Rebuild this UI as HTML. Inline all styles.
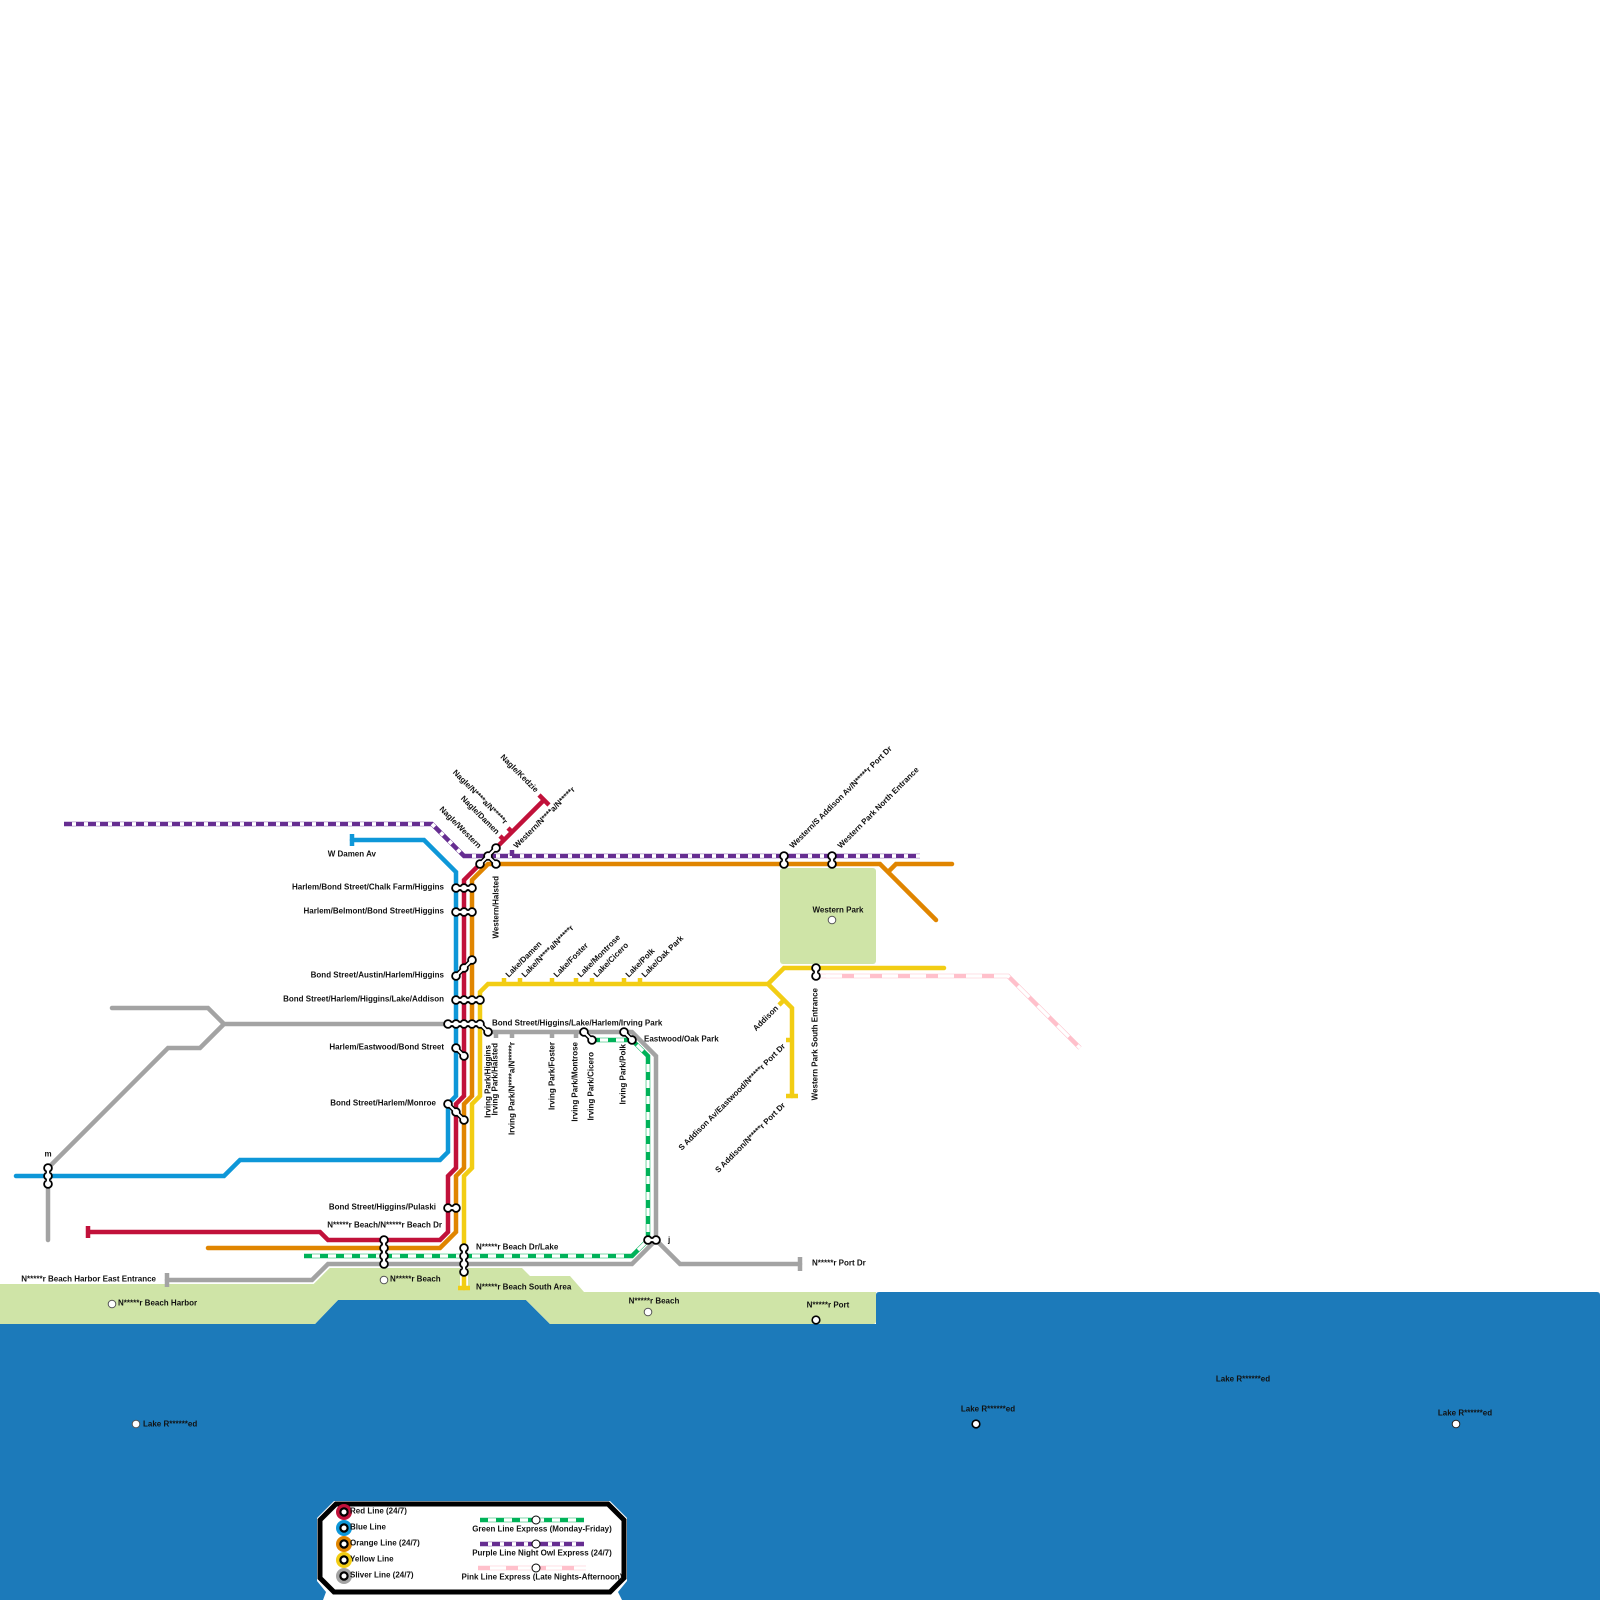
<!DOCTYPE html>
<html><head><meta charset="utf-8"><title>Transit map</title>
<style>
html,body{margin:0;padding:0;background:#fff}
svg{display:block}
text{font-family:"Liberation Sans",sans-serif;font-weight:700;font-size:8px;fill:#111;dominant-baseline:central}
.e{text-anchor:end}.m{text-anchor:middle}
.l{fill:none;stroke-linejoin:miter;stroke-linecap:butt}
.r{stroke-linecap:round}
</style></head><body>
<svg xmlns="http://www.w3.org/2000/svg" width="1600" height="1600" viewBox="0 0 1600 1600">
<defs>
<path id="bl" d="M16 1176H224L240 1160H440L448 1152V1104L456 1096V872L424 840H352"/>
<path id="rd" d="M88 1232H320L328 1240H440L448 1232V1176L456 1168V1104L464 1096V880L544 800"/>
<path id="or" d="M208 1248H440L456 1232V1176L464 1168V1104L472 1096V880L488 864H880L936 920M888 872L896 864H952"/>
<path id="ye" d="M464 1288V1176L472 1168V1104L480 1096V992L488 984H768L784 968H944M768 984L792 1008V1096"/>
<path id="gy" d="M112 1008H208L224 1024H448V1024H480L488 1032H632L656 1056V1240L632 1264H328L312 1280H167M656 1240L680 1264H800M224 1024L200 1048H168L48 1168V1240"/>
<path id="gr" d="M304 1256H632L648 1240V1056L632 1040H592"/>
<path id="pu" d="M64 824H432L464 856H920"/>
<path id="pk" d="M816 976H1008L1080 1048"/>
<path id="dots" stroke-linecap="round" fill="none" d="M456 888h0M464 888h0M472 888h0M456 912h0M464 912h0M472 912h0M456 976h0M464 968h0M472 960h0M456 1000h0M464 1000h0M472 1000h0M480 1000h0M448 1024h0M456 1024h0M464 1024h0M472 1024h0M480 1024h0M488 1032h0M456 1048h0M464 1056h0M448 1104h0M456 1112h0M464 1120h0M448 1208h0M456 1208h0M384 1240h0M384 1248h0M384 1256h0M384 1264h0M464 1248h0M464 1256h0M464 1264h0M464 1272h0M584 1032h0M592 1040h0M624 1032h0M632 1040h0M648 1240h0M656 1240h0M496 848h0M488 856h0M480 864h0M496 864h0M784 856h0M784 864h0M832 856h0M832 864h0M816 968h0M816 976h0M48 1168h0M48 1176h0M48 1184h0"/>
<path id="necks" fill="none" d="M456 888H472M456 912H472M456 976L472 960M456 1000H480M448 1024H480L488 1032M456 1048L464 1056M448 1104L464 1120M448 1208H456M384 1240V1264M464 1248V1272M584 1032L592 1040M624 1032L632 1040M648 1240H656M496 848L480 864M488 856L496 864M784 856V864M832 856V864M816 968V976M48 1168V1184"/>
</defs>

<path fill="#1c7aba" d="M0 1324H315L338 1300H526L550 1324H876V1295Q876 1292 879 1292H1597Q1600 1292 1600 1295V1600H0Z"/>
<path fill="#cfe4a7" d="M0 1284H312L328 1268H522L530 1276H570L584 1292H876V1321Q876 1324 873 1324H550L526 1300H338L315 1324H0Z"/>
<rect x="780" y="868" width="96" height="96" rx="3" fill="#cfe4a7"/>

<g class="l" stroke="#fff" stroke-width="8">
<use href="#gy"/><use href="#gr"/><use href="#or"/><use href="#rd"/><use href="#bl"/><use href="#ye"/>
</g>
<g class="l" stroke-width="4.5">
<use href="#gy" stroke="#a3a3a3" class="r"/>
<path stroke="#a3a3a3" d="M167 1273V1287M800 1257V1271M496 1032V1038M512 1032V1038M552 1032V1038M576 1032V1038"/>
<use href="#gr" stroke="#00b259"/>
<g stroke="#fff" stroke-width="3.4">
<path stroke-dasharray="8 8" stroke-dashoffset="-8" d="M304 1256H632"/>
<path stroke-dasharray="8 8" stroke-dashoffset="-8" d="M648 1056V1240"/>
<path stroke-dasharray="8 8" stroke-dashoffset="-8" d="M592 1040H632"/>
<path d="M637 1045L643 1051M638 1250L648 1240"/>
</g>
<use href="#pk" stroke="#ffc0cb"/>
<use href="#pk" stroke="#fff" stroke-width="3.4" stroke-dasharray="16 12" stroke-dashoffset="-10"/>
<path stroke="#fff" stroke-width="3.4" d="M816 976H830"/>
<use href="#pu" stroke="#662d91"/>
<path stroke="#fff" stroke-width="3.8" stroke-dasharray="4 8" stroke-dashoffset="-8" d="M64 824H432L464 856"/>
<path stroke="#fff" stroke-width="3.8" stroke-dasharray="4 8" stroke-dashoffset="-8" d="M464 856H920"/>
<path stroke="#662d91" d="M512 850V856"/>
<use href="#bl" stroke="#0e97d8" class="r"/>
<path stroke="#0e97d8" d="M352 834V846"/>
<use href="#or" stroke="#e08500" class="r"/>
<use href="#rd" stroke="#c1113a"/>
<path stroke="#c1113a" d="M88 1226V1238M539 795L549 805M504 840L500 836M512 832L508 828"/>
<use href="#ye" stroke="#f2cd14" class="r"/>
<path stroke="#f2cd14" d="M458 1288H470M504 978V984M520 978V984M552 978V984M576 978V984M592 978V984M624 978V984M640 978V984M784 1000L779 1005M792 1040H786M786 1096H798"/>
</g>

<use href="#dots" stroke="#000" stroke-width="9.6"/>
<use href="#necks" stroke="#000" stroke-width="5"/>
<use href="#dots" stroke="#fff" stroke-width="6"/>
<use href="#necks" stroke="#fff" stroke-width="2.2"/>

<g fill="#fff" stroke="#555" stroke-width="1">
<circle cx="832" cy="920" r="3.8"/><circle cx="384" cy="1280" r="3.8"/><circle cx="112" cy="1304" r="3.8"/><circle cx="648" cy="1312" r="3.8"/><circle cx="136" cy="1424" r="3.8"/>
</g>
<g fill="#fff" stroke="#000" stroke-width="1.6">
<circle cx="816" cy="1320" r="3.8"/><circle cx="976" cy="1424" r="3.8"/>
</g>
<circle cx="1456" cy="1424" r="3.8" fill="#fff" stroke="#222" stroke-width="1"/>

<text class="e" transform="translate(537 791) rotate(45)">Nagle/Kedzie</text>
<text class="e" transform="translate(506 823) rotate(45)">Nagle/N****a/N*****r</text>
<text class="e" transform="translate(498 833) rotate(45)">Nagle/Damen</text>
<text class="e" transform="translate(480 847) rotate(45)">Nagle/Western</text>
<text transform="translate(515 847) rotate(-45)">Western/N****a/N*****r</text>
<text class="e" transform="translate(496 876) rotate(-90)">Western/Halsted</text>
<text transform="translate(507 976) rotate(-45)">Lake/Damen</text>
<text transform="translate(523 976) rotate(-45)">Lake/N****a/N*****r</text>
<text transform="translate(555 976) rotate(-45)">Lake/Foster</text>
<text transform="translate(579 976) rotate(-45)">Lake/Montrose</text>
<text transform="translate(595 976) rotate(-45)">Lake/Cicero</text>
<text transform="translate(627 976) rotate(-45)">Lake/Polk</text>
<text transform="translate(643 976) rotate(-45)">Lake/Oak Park</text>
<text x="492" y="1023">Bond Street/Higgins/Lake/Harlem/Irving Park</text>
<text x="644" y="1039">Eastwood/Oak Park</text>
<text class="e" transform="translate(488 1045) rotate(-90)">Irving Park/Higgins</text>
<text class="e" transform="translate(495 1043) rotate(-90)">Irving Park/Halsted</text>
<text class="e" transform="translate(512 1042) rotate(-90)">Irving Park/N****a/N*****r</text>
<text class="e" transform="translate(552 1042) rotate(-90)">Irving Park/Foster</text>
<text class="e" transform="translate(575 1042) rotate(-90)">Irving Park/Montrose</text>
<text class="e" transform="translate(591 1052) rotate(-90)">Irving Park/Cicero</text>
<text class="e" transform="translate(623 1044) rotate(-90)">Irving Park/Polk</text>
<text class="e" transform="translate(777 1007) rotate(-45)">Addison</text>
<text class="e" transform="translate(784 1045) rotate(-45)">S Addison Av/Eastwood/N*****r Port Dr</text>
<text class="e" transform="translate(784 1104) rotate(-45)">S Addison/N*****r Port Dr</text>
<text class="e" transform="translate(815 988) rotate(-90)">Western Park South Entrance</text>
<text transform="translate(791 847) rotate(-45)">Western/S Addison Av/N*****r Port Dr</text>
<text transform="translate(839 847) rotate(-45)">Western Park North Entrance</text>
<text class="m" x="838" y="910">Western Park</text>
<text class="e" x="376" y="854">W Damen Av</text>
<text class="e" x="444" y="887">Harlem/Bond Street/Chalk Farm/Higgins</text>
<text class="e" x="444" y="911">Harlem/Belmont/Bond Street/Higgins</text>
<text class="e" x="444" y="975">Bond Street/Austin/Harlem/Higgins</text>
<text class="e" x="444" y="999">Bond Street/Harlem/Higgins/Lake/Addison</text>
<text class="e" x="444" y="1047">Harlem/Eastwood/Bond Street</text>
<text class="e" x="436" y="1103">Bond Street/Harlem/Monroe</text>
<text class="e" x="436" y="1207">Bond Street/Higgins/Pulaski</text>
<text class="e" x="442" y="1225">N*****r Beach/N*****r Beach Dr</text>
<text x="476" y="1247">N*****r Beach Dr/Lake</text>
<text x="476" y="1287">N*****r Beach South Area</text>
<text class="e" x="156" y="1279">N*****r Beach Harbor East Entrance</text>
<text x="390" y="1279">N*****r Beach</text>
<text x="118" y="1303">N*****r Beach Harbor</text>
<text class="m" x="654" y="1301">N*****r Beach</text>
<text class="m" x="828" y="1305">N*****r Port</text>
<text x="812" y="1263">N*****r Port Dr</text>
<text x="668" y="1240">j</text>
<text class="m" x="48" y="1154">m</text>
<text x="143" y="1424">Lake R******ed</text>
<text class="m" x="1243" y="1379">Lake R******ed</text>
<text class="m" x="988" y="1409">Lake R******ed</text>
<text class="m" x="1465" y="1413">Lake R******ed</text>

<polygon fill="#fff" points="334,1501 610,1501 627,1518 627,1581 618,1592 622,1600 323,1600 326,1592 317,1581 317,1518"/>
<polygon fill="#fff" stroke="#000" stroke-width="5" points="336,1504 608,1504 624,1520 624,1578 610,1592 334,1592 320,1578 320,1520"/>
<circle cx="344" cy="1512" r="8" fill="#c1113a"/><circle cx="344" cy="1528" r="8" fill="#0e97d8"/><circle cx="344" cy="1544" r="8" fill="#e08500"/><circle cx="344" cy="1560" r="8" fill="#f2cd14"/><circle cx="344" cy="1576" r="8" fill="#a3a3a3"/>
<g fill="#fff" stroke="#000" stroke-width="2.2">
<circle cx="344" cy="1512" r="3.6"/><circle cx="344" cy="1528" r="3.6"/><circle cx="344" cy="1544" r="3.6"/><circle cx="344" cy="1560" r="3.6"/><circle cx="344" cy="1576" r="3.6"/>
</g>
<text x="350" y="1511">Red Line (24/7)</text>
<text x="350" y="1527">Blue Line</text>
<text x="350" y="1543">Orange Line (24/7)</text>
<text x="350" y="1559">Yellow Line</text>
<text x="350" y="1575">Sliver Line (24/7)</text>
<g class="l" stroke-width="4.5">
<path stroke="#00b259" d="M480 1520H584"/><path stroke="#fff" stroke-width="3.4" stroke-dasharray="8 8" stroke-dashoffset="-8" d="M480 1520H584"/>
<path stroke="#662d91" d="M480 1544H584"/><path stroke="#fff" stroke-width="3.8" stroke-dasharray="4 8" stroke-dashoffset="-8" d="M480 1544H584"/>
<path stroke="#ffc0cb" d="M478 1568H586"/><path stroke="#fff" stroke-width="3.4" stroke-dasharray="16 12" stroke-dashoffset="-12" d="M478 1568H586"/>
</g>
<g fill="#fff" stroke="#000" stroke-width="1">
<circle cx="536" cy="1520" r="4"/><circle cx="536" cy="1544" r="4"/><circle cx="536" cy="1568" r="4"/>
</g>
<text class="m" x="542" y="1529">Green Line Express (Monday-Friday)</text>
<text class="m" x="542" y="1553">Purple Line Night Owl Express (24/7)</text>
<text class="m" x="542" y="1577">Pink Line Express (Late Nights-Afternoon)</text>
</svg>
</body></html>
